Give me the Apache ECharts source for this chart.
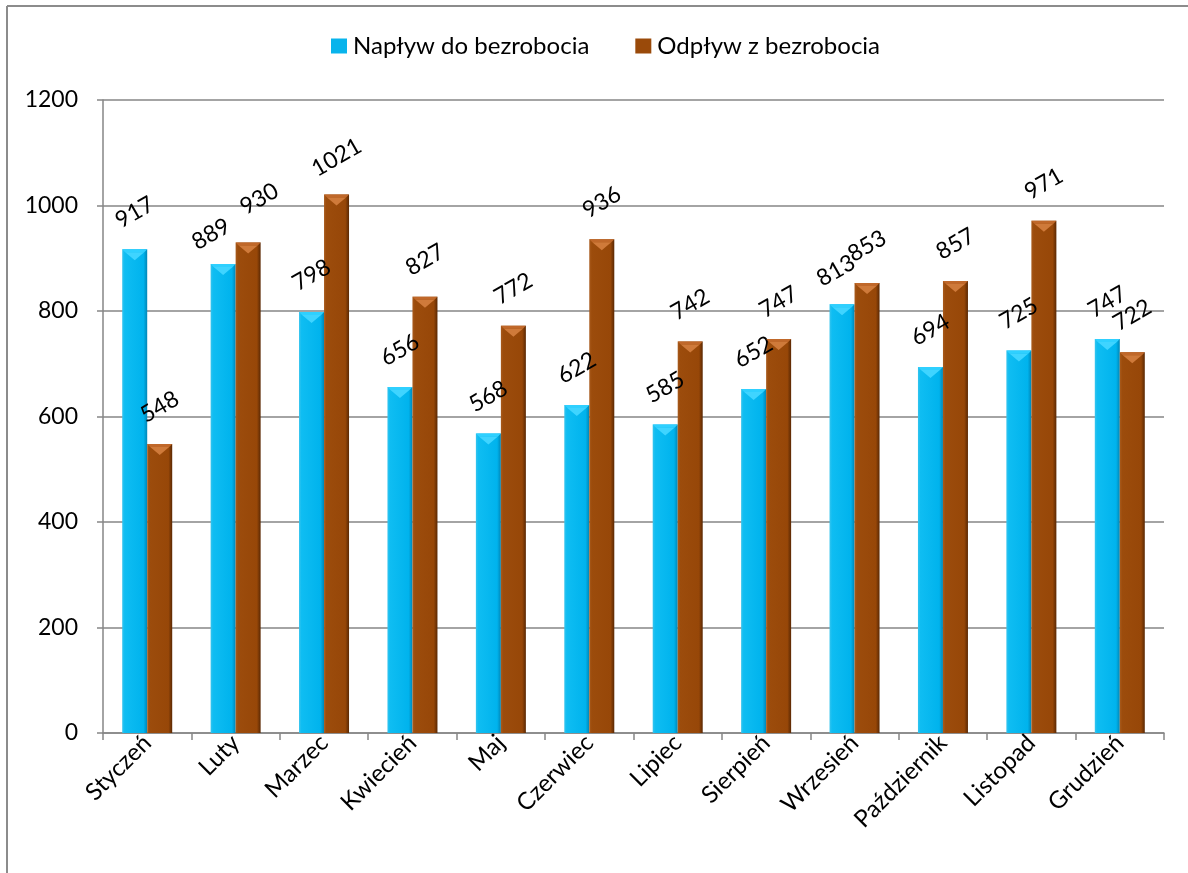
<!DOCTYPE html>
<html><head><meta charset="utf-8">
<script src="https://cdn.jsdelivr.net/npm/echarts@6/dist/echarts.min.js"></script>
<style>html,body{margin:0;padding:0;background:#fff}#c{width:1188px;height:873px}</style>
</head><body><div id="c"></div>
<script>
const categories = ['Styczeń','Luty','Marzec','Kwiecień','Maj','Czerwiec','Lipiec','Sierpień','Wrzesień','Październik','Listopad','Grudzień'];
const naplyw = [917,889,798,656,568,622,585,652,813,694,725,747];
const odplyw = [548,930,1021,827,772,936,742,747,853,857,971,722];
const seriesNames = ['Napływ do bezrobocia','Odpływ z bezrobocia'];

const FONT = 'Lato, "Noto Sans", sans-serif';
const BAR_W = 25;
// horizontal label nudges (px) for a few points, per series
const labelNudge = [{1:-14, 8:-7}, {1:13}];

const chart = echarts.init(document.getElementById('c'));
const cyan = new echarts.graphic.LinearGradient(0,0,1,0,[
  {offset:0,color:'#35c4ee'},{offset:0.1,color:'#0fbdf2'},{offset:0.85,color:'#00b3ed'},{offset:1,color:'#0086b6'}]);
const brown = new echarts.graphic.LinearGradient(0,0,1,0,[
  {offset:0,color:'#a85a1c'},{offset:0.1,color:'#9c4c0c'},{offset:0.85,color:'#974708'},{offset:1,color:'#5a2803'}]);

function lab(){ return {show:true,position:'top',distance:37,rotate:30,align:'center',verticalAlign:'middle',
  fontSize:23,color:'#000',fontFamily:FONT}; }
function items(vals, si){
  return vals.map((v,i)=>{
    const o = {value:v};
    if (labelNudge[si][i] !== undefined) o.label = {offset:[labelNudge[si][i],0]};
    return o;
  });
}
function bevel(side, topColor){
  return function(params, api){
    const i = api.value(0), v = api.value(1);
    const c = api.coord([i, v]);
    const x0 = c[0] + (side === 0 ? -BAR_W : 0), x1 = x0 + BAR_W;
    const y = c[1];
    const d = 11;
    return {type:'group',children:[
      {type:'polygon',shape:{points:[[x0,y],[x1,y],[x1-3,y+3],[x0+3,y+3]]},style:{fill:topColor.edge}},
      {type:'polygon',shape:{points:[[x0+3,y+3],[x1-3,y+3],[(x0+x1)/2,y+d]]},style:{fill:topColor.tri}}
    ]};
  };
}
chart.setOption({
  animation:false,
  textStyle:{fontFamily:FONT},
  graphic:[
    {type:'line',shape:{x1:7,y1:6,x2:1188,y2:6},style:{stroke:'#8c8c8c',lineWidth:2}},
    {type:'line',shape:{x1:7,y1:6,x2:7,y2:873},style:{stroke:'#8c8c8c',lineWidth:2}}
  ],
  legend:{top:29,left:326,itemWidth:16,itemHeight:15,itemGap:46,
    textStyle:{fontSize:24,color:'#000',fontFamily:FONT,padding:[0,0,0,1]},
    data:[{name:seriesNames[0],icon:'rect',itemStyle:{color:'#08b4ec'}},
          {name:seriesNames[1],icon:'rect',itemStyle:{color:'#9a4a0a'}}]},
  grid:{left:103,right:24,top:100,bottom:140},
  xAxis:{type:'category',data:categories,
    axisLine:{lineStyle:{color:'#868686',width:1.5}},
    axisTick:{show:true,length:7,lineStyle:{color:'#868686',width:1.5}},
    axisLabel:{rotate:45,fontSize:24,color:'#000',margin:6,fontFamily:FONT}},
  yAxis:{type:'value',min:0,max:1200,interval:200,
    axisLine:{show:true,lineStyle:{color:'#868686',width:1.5}},
    axisTick:{show:true,length:6,lineStyle:{color:'#868686',width:1.5}},
    splitLine:{lineStyle:{color:'#868686',width:1.5}},
    axisLabel:{fontSize:23,color:'#000',margin:25,fontFamily:FONT,formatter:v=>String(v)}},
  series:[
    {name:seriesNames[0],type:'bar',data:items(naplyw,0),barWidth:BAR_W,barGap:'0%',
      itemStyle:{color:cyan},label:lab()},
    {name:seriesNames[1],type:'bar',data:items(odplyw,1),barWidth:BAR_W,barGap:'0%',
      itemStyle:{color:brown},label:lab()},
    {type:'custom',name:'b0',data:naplyw.map((v,i)=>[i,v]),renderItem:bevel(0,{edge:'#2fd0ff',tri:'#3fd4ff'}),
      silent:true,z:3,tooltip:{show:false}},
    {type:'custom',name:'b1',data:odplyw.map((v,i)=>[i,v]),renderItem:bevel(1,{edge:'#c0682a',tri:'#cf7a3a'}),
      silent:true,z:3,tooltip:{show:false}}
  ]
});
</script></body></html>
